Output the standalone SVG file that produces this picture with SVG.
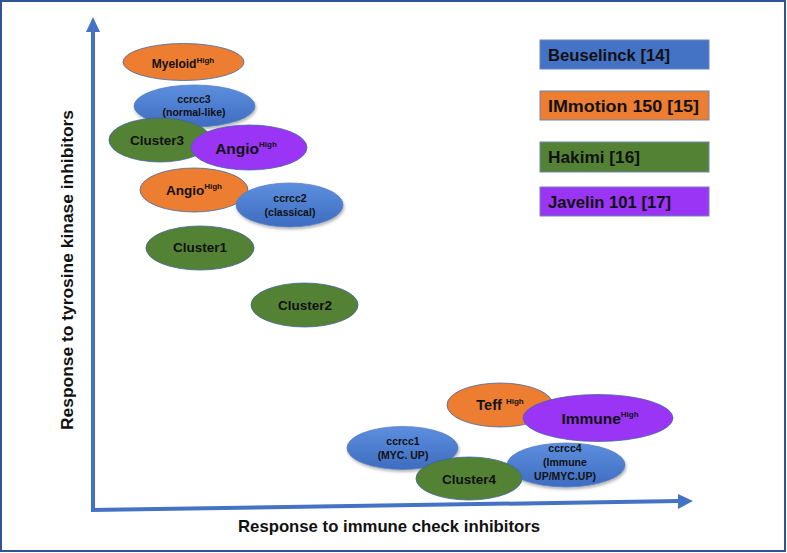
<svg xmlns="http://www.w3.org/2000/svg" width="787" height="553" viewBox="0 0 787 553">
<style>
text{font-family:"Liberation Sans",Arial,sans-serif;font-weight:bold;fill:#111;text-anchor:middle}
.sup{font-size:8px}
.blue{fill:url(#gb);stroke:#5b7fc0;stroke-width:0.8;filter:url(#sh)}
.orange{fill:#ed7d31;stroke:#41679f;stroke-width:0.8}
.green{fill:#548235;stroke:#3f62a0;stroke-width:0.8}
.purple{fill:#9a35f5;stroke:#41679f;stroke-width:0.8}
.leg{stroke:#6a85b5;stroke-width:1}
.legt{font-size:17px;text-anchor:start}
.s{font-size:10.5px}
.m{font-size:13.5px}
.ax{stroke:#4472c4;stroke-width:4;fill:none}
</style>
<defs>
<linearGradient id="gb" x1="0" y1="0" x2="0" y2="1">
<stop offset="0" stop-color="#5d8fde"/>
<stop offset="1" stop-color="#3e6cc0"/>
</linearGradient>
<filter id="sh" x="-20%" y="-20%" width="140%" height="160%">
<feDropShadow dx="1" dy="2" stdDeviation="1.5" flood-color="#000" flood-opacity="0.3"/>
</filter>
</defs>
<rect x="1" y="1" width="784" height="550" fill="#fff" stroke="#2f5597" stroke-width="2"/>

<g id="connectors">
<path class="ax" d="M93,510 L93,30"/>
<polygon points="86,32 100,32 93,17" fill="#4472c4"/>
<path class="ax" d="M91,510 L680,501"/>
<polygon points="678,494 678,509 693,501" fill="#4472c4"/>
</g>

<g id="axis-labels">
<text x="389" y="532" font-size="17" textLength="302" lengthAdjust="spacingAndGlyphs">Response to immune check inhibitors</text>
<text transform="translate(73,270) rotate(-90)" x="0" y="0" font-size="17" textLength="320" lengthAdjust="spacingAndGlyphs">Response to tyrosine kinase inhibitors</text>
</g>

<g id="legend">
<g id="leg-beuselinck"><rect class="leg" x="540" y="40" width="169" height="29" fill="#4472c4"/><text class="legt" x="548" y="61" textLength="122" lengthAdjust="spacingAndGlyphs">Beuselinck [14]</text></g>
<g id="leg-immotion"><rect class="leg" x="540" y="91" width="169" height="29" fill="#ed7d31"/><text class="legt" x="548" y="112" textLength="151" lengthAdjust="spacingAndGlyphs">IMmotion 150 [15]</text></g>
<g id="leg-hakimi"><rect class="leg" x="540" y="142" width="169" height="30" fill="#548235"/><text class="legt" x="548" y="163" textLength="92" lengthAdjust="spacingAndGlyphs">Hakimi [16]</text></g>
<g id="leg-javelin"><rect class="leg" x="540" y="187" width="169" height="29" fill="#9a35f5"/><text class="legt" x="548" y="208" textLength="123" lengthAdjust="spacingAndGlyphs">Javelin 101 [17]</text></g>
</g>

<g id="myeloid-high"><ellipse class="orange" cx="183.5" cy="62" rx="60.5" ry="18.5"/><text x="183" y="68" font-size="12">Myeloid<tspan class="sup" dy="-5">High</tspan></text></g>
<g id="ccrcc3"><ellipse class="blue" cx="194.5" cy="106" rx="60.5" ry="21"/><text class="s" x="194" y="103">ccrcc3</text><text class="s" x="194" y="116">(normal-like)</text></g>
<g id="cluster3"><ellipse class="green" cx="160" cy="140" rx="51" ry="22"/><text class="m" x="157" y="145">Cluster3</text></g>
<g id="angio-high-purple"><ellipse class="purple" cx="249" cy="147.5" rx="58" ry="22.5"/><text x="246" y="154" font-size="15.5">Angio<tspan class="sup" font-size="10" dy="-7">High</tspan></text></g>
<g id="angio-high-orange"><ellipse class="orange" cx="194" cy="190" rx="54" ry="22"/><text x="194" y="195" font-size="13.5">Angio<tspan class="sup" dy="-6">High</tspan></text></g>
<g id="ccrcc2"><ellipse class="blue" cx="289.5" cy="205" rx="53.5" ry="22"/><text class="s" x="290" y="202">ccrcc2</text><text class="s" x="290" y="216">(classical)</text></g>
<g id="cluster1"><ellipse class="green" cx="200" cy="248" rx="54" ry="22"/><text class="m" x="200" y="252">Cluster1</text></g>
<g id="cluster2"><ellipse class="green" cx="304.5" cy="305" rx="53.5" ry="22"/><text class="m" x="305" y="310">Cluster2</text></g>

<g id="teff-high"><ellipse class="orange" cx="500" cy="405" rx="53" ry="22"/><text x="500" y="410" font-size="14.5">Teff <tspan class="sup" font-size="9" dy="-6">High</tspan></text></g>
<g id="immune-high"><ellipse class="purple" cx="598" cy="418" rx="75" ry="23.5"/><text x="600" y="424" font-size="15.5">Immune<tspan class="sup" font-size="10" dy="-7">High</tspan></text></g>
<g id="ccrcc1"><ellipse class="blue" cx="402.5" cy="448" rx="55.5" ry="21.5"/><text class="s" x="403" y="445">ccrcc1</text><text class="s" x="403" y="459">(MYC. UP)</text></g>
<g id="ccrcc4"><ellipse class="blue" cx="566" cy="465" rx="59" ry="22"/><text class="s" x="565" y="452">ccrcc4</text><text class="s" x="565" y="466">(Immune</text><text class="s" x="565" y="480">UP/MYC.UP)</text></g>
<g id="cluster4"><ellipse class="green" cx="469" cy="478.5" rx="53" ry="21.5"/><text class="m" x="469" y="484">Cluster4</text></g>
</svg>
